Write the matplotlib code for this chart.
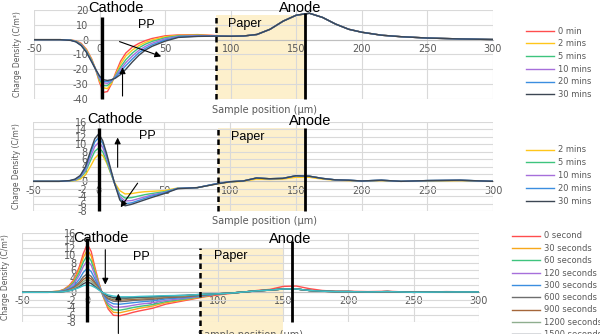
import numpy as np
import matplotlib
matplotlib.use('Agg')
import matplotlib.pyplot as plt
from matplotlib.patches import Rectangle

plt.rcParams['font.family'] = ['DejaVu Sans']
plt.rcParams['axes.unicode_minus'] = False

# sample positions (um), shared by all three panels
x = [-50, -30, -22, -18, -14, -10, -6, -3, 0, 3, 6, 9, 12, 16, 20, 25, 30, 35, 40,
     50, 60, 75, 90, 100, 110, 120, 130, 140, 150, 160, 170, 180, 190, 200, 215, 230,
     250, 275, 300]

# ---- panel 1 : charge density, -40..20
p1_labels = ['0 min', '2 mins', '5 mins', '10 mins', '20 mins', '30 mins']
p1_tail = [2.3, 2.5, 3.5, 7, 12.5, 16.5, 17.8, 15, 10.5, 7, 5, 3, 2, 1.1, 0.5, 0.1]
p1_0 = [0, 0, -0.2, -0.8, -2.5, -6.5, -13, -20, -29, -35.5, -35, -30, -23, -14.5, -9, -5, -2.5, -0.6, 0.8, 2.6, 3.2, 3.4, 2.7]
p1_2 = [0, 0, -0.3, -1, -3, -7, -13.5, -20, -28, -32.5, -33, -29.5, -24, -16.5, -11, -7, -4, -1.8, -0.2, 2, 2.9, 3.1, 2.6]
p1_5 = [0, 0, -0.3, -1.1, -3.2, -7.5, -14, -20, -27, -31, -31, -28.5, -24.5, -18.5, -13.5, -9, -5.5, -3, -1.2, 1.3, 2.6, 2.9, 2.5]
p1_10 = [0, 0, -0.4, -1.3, -3.5, -8, -14.5, -20, -26, -29, -29.5, -28, -25, -20, -15.5, -11, -7.2, -4.5, -2.4, 0.6, 2.2, 2.7, 2.5]
p1_20 = [0, 0, -0.4, -1.4, -3.8, -8.3, -14.8, -20, -25, -28, -28.3, -27.5, -25.5, -21.5, -17.5, -13, -8.8, -5.8, -3.5, -0.2, 1.8, 2.4, 2.4]
p1_30 = [0, 0, -0.5, -1.5, -4, -8.5, -15, -20, -24.5, -27, -27.5, -27, -26, -23.5, -20, -15, -10.5, -7, -4.5, -1, 1.5, 2.2, 2.4]
p1_series = [p1_0 + p1_tail, p1_2 + p1_tail, p1_5 + p1_tail,
             p1_10 + p1_tail, p1_20 + p1_tail, p1_30 + p1_tail]
p1_colors = ['#ff4d4d', '#ffc61a', '#3ec47e', '#a66fdb', '#3b8ee0', '#3c4653']

# ---- panel 2 : -8..16
p2_labels = ['2 mins', '5 mins', '10 mins', '20 mins', '30 mins']
p2_tail = [-0.1, 0.1, 0.9, 0.7, 0.8, 1.5, 1.4, 0.8, 0.4, 0.3, 0.1, 0.3, 0, 0.2, 0.3, 0]
p2_tail_y = [-0.2, 0, 0.6, 0.5, 0.6, 1.1, 1.1, 0.6, 0.3, 0.2, 0.1, 0.2, 0, 0.1, 0.2, 0]
p2_2 = [0, 0, 0.05, 0.2, 0.6, 1.8, 4.2, 6.2, 7.3, 7, 5, 2.3, -0.3, -2.5, -3.4, -3.3, -3, -2.8, -2.7, -2.5, -1.8, -1.7, -0.7]
p2_5 = [0, 0, 0.1, 0.3, 1, 2.6, 5.8, 8.1, 9, 8, 5.5, 2.4, -0.5, -3.5, -4.5, -4.4, -4, -3.6, -3.3, -2.8, -1.9, -1.7, -0.6]
p2_10 = [0, 0, 0.15, 0.4, 1.2, 3.1, 6.8, 9.4, 10.5, 9.2, 6.3, 2.8, -0.5, -4, -5.3, -5.2, -4.7, -4.2, -3.7, -3, -1.9, -1.7, -0.6]
p2_20 = [0, 0, 0.2, 0.5, 1.4, 3.6, 7.8, 10.6, 11.8, 10.3, 7, 3.2, -0.5, -4.5, -6, -5.8, -5.2, -4.6, -4, -3.1, -1.9, -1.7, -0.6]
p2_30 = [0, 0, 0.2, 0.6, 1.6, 4, 8.5, 11.5, 12.8, 11, 7.5, 3.5, -0.5, -5, -6.6, -6.2, -5.6, -5, -4.4, -3.3, -2, -1.7, -0.7]
p2_series = [p2_2 + p2_tail_y, p2_5 + p2_tail, p2_10 + p2_tail,
             p2_20 + p2_tail, p2_30 + p2_tail]
p2_colors = ['#ffc61a', '#3ec47e', '#a66fdb', '#3b8ee0', '#3c4653']

# ---- panel 3 : -8..16, seconds
p3_labels = ['0 second', '30 seconds', '60 seconds', '120 seconds', '300 seconds',
             '600 seconds', '900 seconds', '1200 seconds', '1500 seconds', '1800 seconds']
p3_tail_r = [-0.7, -0.3, 0.1, 0.5, 0.8, 1.6, 1.7, 1, 0.5, 0.3, 0.3, 0.2, 0.3, 0, 0.2, 0.1]
p3_tail = [-0.4, -0.2, 0.1, 0.4, 0.6, 0.9, 0.9, 0.5, 0.3, 0.2, 0.2, 0.1, 0.2, 0, 0.1, 0.1]
p3_0 = [0, 0.1, 0.3, 0.8, 1.8, 3.5, 7, 10.5, 13, 11, 6.5, 2.5, -1, -4.5, -6.2, -6.3, -5.9, -5.4, -5, -4.3, -3.2, -2.2, -1.2]
p3_30 = [0, 0.1, 0.3, 0.7, 1.6, 3.2, 6.3, 9.4, 11.5, 9.8, 5.9, 2.2, -0.9, -4, -5.4, -5.5, -5.1, -4.7, -4.3, -3.7, -2.8, -2, -1.1]
p3_60 = [0, 0.1, 0.25, 0.6, 1.4, 2.8, 5.5, 8.2, 10, 8.5, 5.2, 2, -0.8, -3.5, -4.7, -4.8, -4.5, -4.1, -3.8, -3.3, -2.5, -1.8, -1]
p3_120 = [0, 0.1, 0.2, 0.5, 1.2, 2.4, 4.7, 7, 8.5, 7.3, 4.5, 1.7, -0.6, -3, -3.9, -4, -3.8, -3.5, -3.2, -2.8, -2.2, -1.6, -0.9]
p3_300 = [0, 0.05, 0.15, 0.4, 0.9, 1.8, 3.6, 5.4, 6.5, 5.6, 3.5, 1.4, -0.4, -2.4, -3.1, -3.2, -3, -2.8, -2.6, -2.3, -1.8, -1.4, -0.8]
p3_600 = [0, 0.05, 0.1, 0.3, 0.7, 1.4, 2.8, 4.2, 5, 4.3, 2.7, 1.1, -0.3, -1.8, -2.4, -2.5, -2.4, -2.2, -2.1, -1.9, -1.5, -1.2, -0.7]
p3_900 = [0, 0.05, 0.1, 0.25, 0.6, 1.2, 2.3, 3.5, 4.2, 3.6, 2.3, 0.9, -0.2, -1.5, -2, -2.1, -2, -1.9, -1.8, -1.6, -1.3, -1.1, -0.6]
p3_1200 = [0, 0, 0.1, 0.2, 0.5, 1, 1.9, 2.9, 3.5, 3, 1.9, 0.8, -0.2, -1.2, -1.7, -1.8, -1.7, -1.6, -1.5, -1.4, -1.1, -0.9, -0.5]
p3_1500 = [0, 0, 0.1, 0.2, 0.4, 0.8, 1.5, 2.3, 2.8, 2.4, 1.5, 0.7, -0.1, -1, -1.4, -1.5, -1.5, -1.4, -1.3, -1.2, -1, -0.8, -0.5]
p3_1800 = [0, 0, 0.1, 0.2, 0.4, 0.8, 1.3, 1.8, 2, 1.8, 1.3, 0.6, -0.1, -0.7, -1, -1.2, -1.2, -1.2, -1.1, -1, -0.9, -0.8, -0.5]
p3_series = [p3_0 + p3_tail_r, p3_30 + p3_tail, p3_60 + p3_tail, p3_120 + p3_tail,
             p3_300 + p3_tail, p3_600 + p3_tail, p3_900 + p3_tail, p3_1200 + p3_tail,
             p3_1500 + p3_tail, p3_1800 + p3_tail]
p3_colors = ['#ff4d4d', '#f7a81b', '#3ec47e', '#a66fdb', '#3b8ee0',
             '#6e6e6e', '#a5663a', '#8fae8f', '#404a57', '#3fc1c9']

xticks = [-50, 0, 50, 100, 150, 200, 250, 300]
gray = '#595959'


def setup(ax, ylim, ystep):
    ax.set_xlim(-50, 300)
    ax.set_ylim(*ylim)
    ax.set_xticks(xticks)
    ax.set_yticks(np.arange(ylim[0], ylim[1] + 0.1, ystep))
    ax.grid(True, color='#d9d9d9', lw=0.8)
    ax.set_axisbelow(True)
    for s in ['top', 'right', 'left']:
        ax.spines[s].set_visible(False)
    # excel style: axes cross at (0, 0)
    ax.spines['bottom'].set_position(('data', 0))
    ax.spines['left'].set_position(('data', 0))
    ax.spines['bottom'].set_color('#bfbfbf')
    ax.tick_params(length=0, labelsize=7, colors=gray)
    ax.tick_params(axis='x', pad=3)
    ax.tick_params(axis='y', pad=8)
    ax.set_ylabel('Charge Density (C/m³)', fontsize=5.5, color=gray)
    ax.yaxis.set_label_coords(-0.026, 0.5)
    ax.set_xlabel('Sample position (μm)', fontsize=7, color=gray)


def marks(ax, cath_x, cath_top, paper_x, paper_top, paper_bot, anode_x, anode_top,
          ybot, shade_end):
    ax.add_patch(Rectangle((paper_x, paper_bot), shade_end - paper_x, paper_top - paper_bot,
                           color='#fdf0cc', zorder=0.3, lw=0, clip_on=False))
    ax.plot([cath_x, cath_x], [ybot, cath_top], color='black', lw=2.4,
            solid_capstyle='butt', clip_on=False, zorder=5)
    ax.plot([paper_x, paper_x], [paper_bot, paper_top], color='black', lw=1.8,
            ls=(0, (2.2, 1.6)), clip_on=False, zorder=5)
    ax.plot([anode_x, anode_x], [ybot, anode_top], color='black', lw=2.0,
            solid_capstyle='butt', clip_on=False, zorder=5)


def label(ax, xy, s, size):
    ax.text(xy[0], xy[1], s, fontsize=size, ha='left', va='center', color='black',
            family='Liberation Sans', clip_on=False, zorder=6)


def arrow(ax, tail, head):
    ax.annotate('', xy=head, xytext=tail, annotation_clip=False,
                arrowprops=dict(arrowstyle='-|>', color='black', lw=0.8,
                                mutation_scale=9, shrinkA=0, shrinkB=0), zorder=6)


fig = plt.figure(figsize=(6, 3.34), dpi=100)

# panel 1
ax1 = fig.add_axes([34 / 600, 1 - 99 / 334, 459 / 600, 89 / 334])
setup(ax1, (-40, 20), 10)
ax1.xaxis.set_label_coords(0.503, -0.07)
h1 = [ax1.plot(x, y, color=c, lw=1, zorder=3)[0] for y, c in zip(p1_series, p1_colors)]
marks(ax1, 1.5, 15.3, 88.6, 16.7, -40, 157, 18.2, -40, 157)
label(ax1, (-9, 21.3), 'Cathode', 10.5)
label(ax1, (137, 21.3), 'Anode', 10.5)
label(ax1, (29, 10), 'PP', 9)
label(ax1, (98, 10.7), 'Paper', 9)
arrow(ax1, (15.2, -1.3), (47, -11.3))
arrow(ax1, (17.5, -38), (17.5, -18.7))

# panel 2
ax2 = fig.add_axes([33 / 600, 1 - 211 / 334, 460 / 600, 89 / 334])
setup(ax2, (-8, 16), 2)
ax2.xaxis.set_label_coords(0.503, -0.06)
h2 = [ax2.plot(x, y, color=c, lw=1, zorder=3)[0] for y, c in zip(p2_series, p2_colors)]
marks(ax2, 0, 14.5, 91, 14.5, -8, 157, 14.3, -8, 157)
label(ax2, (-8.4, 16.7), 'Cathode', 10.5)
label(ax2, (145, 16.4), 'Anode', 10.5)
label(ax2, (31, 12.2), 'PP', 9)
label(ax2, (101, 12), 'Paper', 9)
arrow(ax2, (14.4, 3.8), (14.4, 11.8))
arrow(ax2, (29.6, -0.5), (16.7, -7))

# panel 3
ax3 = fig.add_axes([22 / 600, 1 - 322 / 334, 457 / 600, 89 / 334])
setup(ax3, (-8, 16), 2)
ax3.xaxis.set_label_coords(0.499, -0.09)
h3 = [ax3.plot(x, y, color=c, lw=1, zorder=3)[0] for y, c in zip(p3_series, p3_colors)]
marks(ax3, 0, 14.7, 86, 12, -11.5, 157, 13.9, -8, 150)
label(ax3, (-10.8, 14.7), 'Cathode', 10.5)
label(ax3, (139, 14.5), 'Anode', 10.5)
label(ax3, (35, 9.6), 'PP', 9)
label(ax3, (97, 9.7), 'Paper', 9)
arrow(ax3, (13.8, 11.5), (13.8, 2.1))
arrow(ax3, (23.8, -11.1), (23.8, -0.35))

legend_kw = dict(loc='upper left', frameon=False, fontsize=6, handlelength=3.4,
                 handletextpad=0.4, labelspacing=0.45, borderpad=0, borderaxespad=0,
                 labelcolor=gray)
fig.legend(h1, p1_labels, bbox_to_anchor=(526 / 600, 1 - 26.5 / 334), **legend_kw)
fig.legend(h2, p2_labels, bbox_to_anchor=(526 / 600, 1 - 145.5 / 334), **legend_kw)
fig.legend(h3, p3_labels, bbox_to_anchor=(512 / 600, 1 - 231.5 / 334),
           **dict(legend_kw, labelspacing=0.4))

fig.savefig('out.png', dpi=100)
